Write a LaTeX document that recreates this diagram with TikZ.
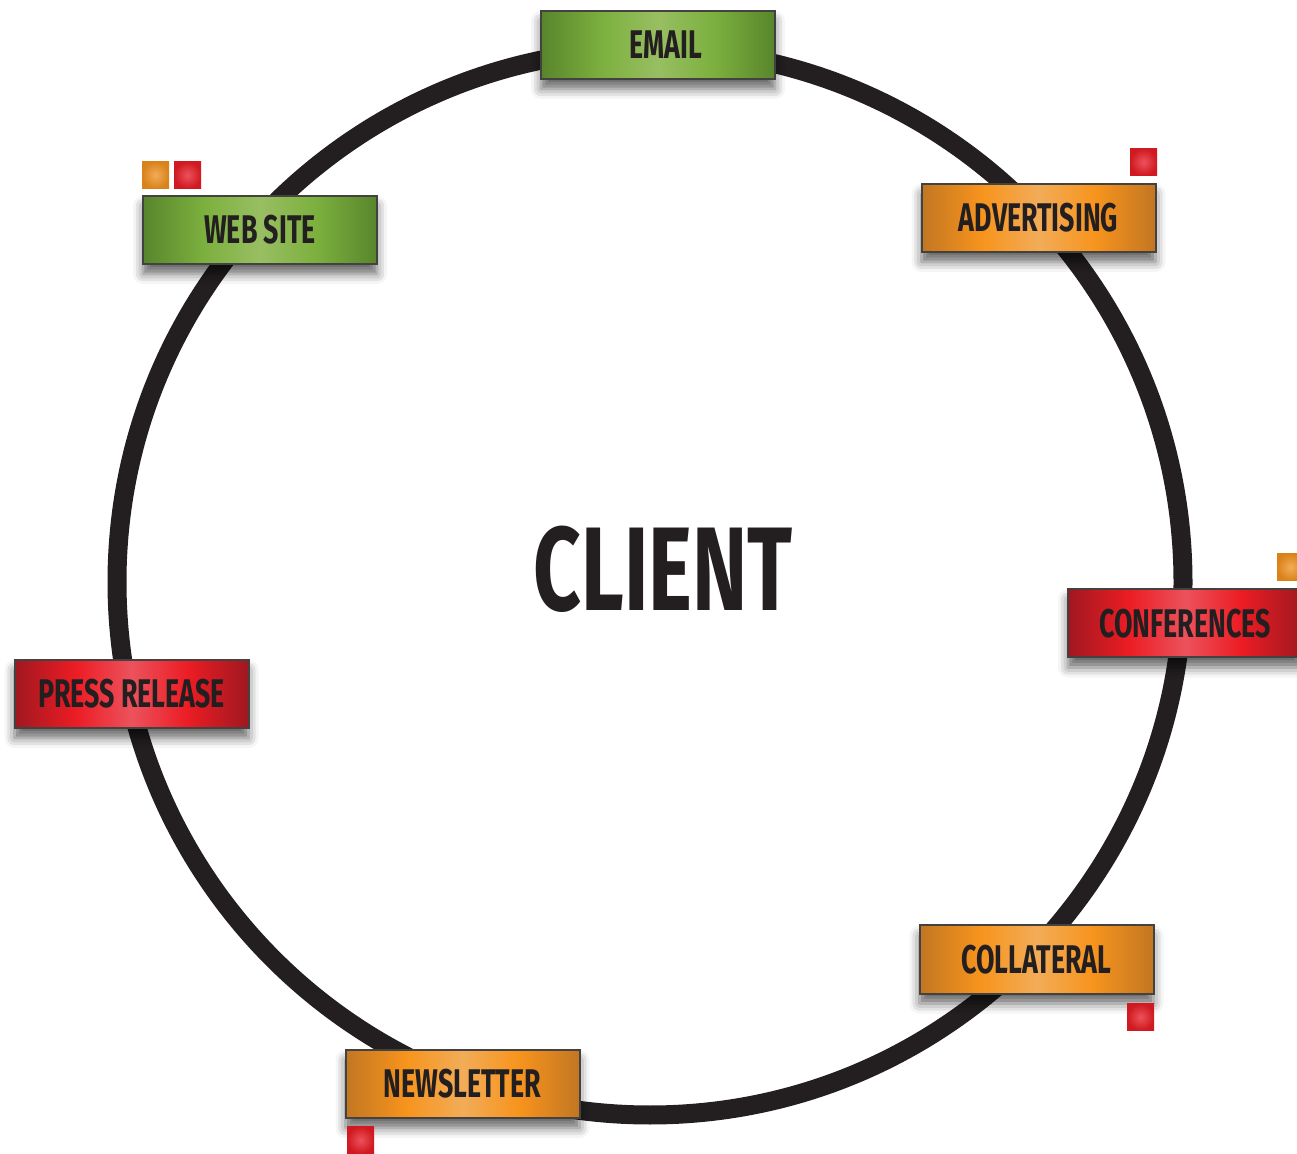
\documentclass[tikz,border=0pt]{standalone}
\usepackage{fontspec}
\newfontfamily\lblfont[FakeStretch=0.67]{Fira Sans}
\newfontfamily\bigfont[FakeStretch=0.7]{Fira Sans}
\usetikzlibrary{shadows.blur}

\definecolor{ink}{HTML}{231F20}
\definecolor{gdark}{RGB}{88,133,44}
\definecolor{gmid}{RGB}{124,176,62}
\definecolor{glight}{RGB}{152,190,98}
\definecolor{odark}{RGB}{194,118,34}
\definecolor{omid}{RGB}{247,148,29}
\definecolor{olight}{RGB}{242,172,88}
\definecolor{rdark}{RGB}{160,24,32}
\definecolor{rmid}{RGB}{236,28,36}
\definecolor{rlight}{RGB}{236,82,92}

\pgfdeclarehorizontalshading{greenshade}{100bp}{color(0bp)=(gdark); color(25bp)=(gdark); color(38bp)=(gmid); color(50bp)=(glight); color(62bp)=(gmid); color(75bp)=(gdark); color(100bp)=(gdark)}
\pgfdeclarehorizontalshading{orangeshade}{100bp}{color(0bp)=(odark); color(25bp)=(odark); color(38bp)=(omid); color(50bp)=(olight); color(62bp)=(omid); color(75bp)=(odark); color(100bp)=(odark)}
\pgfdeclarehorizontalshading{redshade}{100bp}{color(0bp)=(rdark); color(25bp)=(rdark); color(38bp)=(rmid); color(50bp)=(rlight); color(62bp)=(rmid); color(75bp)=(rdark); color(100bp)=(rdark)}

\begin{document}
\begin{tikzpicture}[x=0.5pt,y=-0.5pt,
  box/.style={draw=ink!85,line width=1pt,minimum width=117pt,minimum height=34pt,inner sep=0pt,
    font=\lblfont\bfseries\fontsize{20}{20}\selectfont,text=ink,
    blur shadow={shadow xshift=0pt,shadow yshift=-5pt,shadow blur radius=5pt,shadow opacity=60}},
  greenbox/.style={box,shade,shading=greenshade},
  orangebox/.style={box,shade,shading=orangeshade},
  redbox/.style={box,shade,shading=redshade},
  dot/.style={minimum size=13.5pt,inner sep=0pt},
  reddot/.style={dot,inner color=rlight,outer color=rmid!88!black},
  orangedot/.style={dot,inner color=olight,outer color=omid!88!black}]
 \useasboundingbox (0,0) rectangle (1297,1154);
 \draw[ink,line width=9.5pt] (650,582) circle [radius=266.5pt];
 \node[font=\bigfont\bfseries\fontsize{59.5}{60}\selectfont,text=ink] (client) at (663,569) {CLIENT};
 \node[greenbox] (email) at (658,45) {\hspace*{8pt}EMAIL};
 \node[greenbox] (website) at (260,230) {WEB SITE};
 \node[orangebox] (advertising) at (1038.5,218) {ADVERTISING};
 \node[redbox] (conferences) at (1185,623.5) {CONFERENCES};
 \node[redbox] (press) at (131.5,694) {PRESS RELEASE};
 \node[orangebox] (collateral) at (1036.5,959.5) {COLLATERAL};
 \node[orangebox] (newsletter) at (462.5,1084) {NEWSLETTER};
 \node[orangedot] (websiteA) at (155.5,175) {};
 \node[reddot] (websiteB) at (187.5,175) {};
 \node[reddot] (advertisingA) at (1143.5,162) {};
 \node[orangedot] (conferencesA) at (1290.5,567) {};
 \node[reddot] (collateralA) at (1140.5,1017) {};
 \node[reddot] (newsletterA) at (360.5,1140) {};
\end{tikzpicture}
\end{document}
